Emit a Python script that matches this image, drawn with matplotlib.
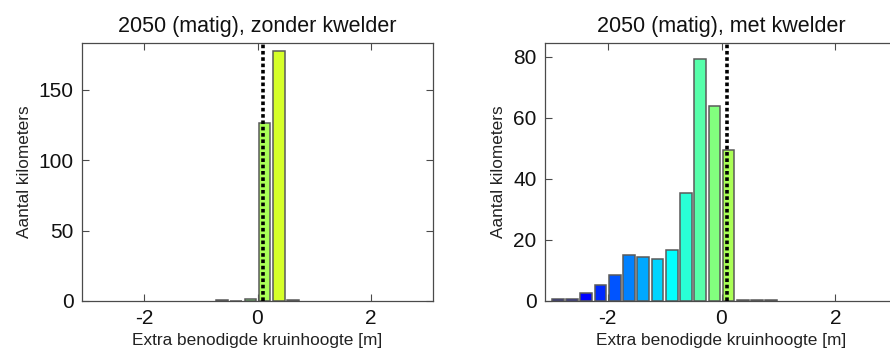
import numpy as np
import matplotlib
matplotlib.use("Agg")
import matplotlib.pyplot as plt
from matplotlib.colors import LinearSegmentedColormap, Normalize

# Bin centres of the crest-height histogram [m]
bin_centres = np.arange(-2.875, 3.0, 0.25)

# Number of kilometres per bin, without salt marsh
km_zonder = [0, 0, 0, 0, 0, 0, 0, 0, 0,
             0.4, 0.3, 1.6, 126, 177, 0.4,
             0, 0, 0, 0, 0, 0, 0, 0, 0]

# Number of kilometres per bin, with salt marsh
km_met = [0.5, 0.7, 2.7, 5.2, 8.5, 15.1, 14.3, 13.8, 16.6,
          35.3, 79.2, 63.8, 49.5, 0.3, 0.3, 0.3,
          0, 0, 0, 0, 0, 0, 0, 0]

titles = ["2050 (matig), zonder kwelder", "2050 (matig), met kwelder"]
x_label = "Extra benodigde kruinhoogte [m]"
y_label = "Aantal kilometers"
reference_height = 0.09

# Classic MATLAB-style jet colour map
jet = LinearSegmentedColormap("jet_m", {
    "red":   [(0, 0, 0), (3/8, 0, 0), (5/8, 1, 1), (7/8, 1, 1), (1, 0.5, 0.5)],
    "green": [(0, 0, 0), (1/8, 0, 0), (3/8, 1, 1), (5/8, 1, 1), (7/8, 0, 0), (1, 0, 0)],
    "blue":  [(0, 0.5, 0.5), (1/8, 1, 1), (3/8, 1, 1), (5/8, 0, 0), (1, 0, 0)],
})
norm = Normalize(-3.125, 2.875)
bar_colours = jet(norm(bin_centres))

plt.rcParams["font.family"] = ["Liberation Sans", "DejaVu Sans"]

fig = plt.figure(figsize=(8.9, 3.56), dpi=100)
W, H = 890, 356
axes_px = [(82, 43, 351, 258), (545, 43, 353, 258)]
ylims = [183, 84.5]
yticks = [[0, 50, 100, 150], [0, 20, 40, 60, 80]]
spine_col = "#4a4a4a"

for (x0, y0, w, h), counts, title, ymax, yt in zip(
        axes_px, [km_zonder, km_met], titles, ylims, yticks):
    ax = fig.add_axes([x0 / W, (H - y0 - h) / H, w / W, h / H])
    counts = np.asarray(counts, dtype=float)
    filled = counts > 0  # empty bins are not drawn
    ax.bar(bin_centres[filled], counts[filled], width=0.205,
           color=bar_colours[filled], edgecolor="#5a5a5a", linewidth=1.1,
           zorder=2)
    ax.plot([reference_height, reference_height], [0, ymax], color="black",
            linewidth=2.6, linestyle=(0, (1.0, 0.75)), zorder=3)
    ax.set_xlim(-3.1, 3.1)
    ax.set_ylim(0, ymax)
    ax.set_xticks([-2, 0, 2])
    ax.set_xticklabels(["-2", "0", "2"])
    ax.set_yticks(yt)
    ax.tick_params(direction="in", top=True, right=True, length=5,
                   width=0.8, color=spine_col, labelsize=15, pad=6,
                   labelcolor="#111111")
    for s in ax.spines.values():
        s.set_color(spine_col)
        s.set_linewidth(0.9)
    ax.set_title(title, fontsize=15.5, color="#111111", pad=8)
    ax.set_xlabel(x_label, fontsize=12.4, color="#222222", labelpad=3)
    ax.set_ylabel(y_label, fontsize=12.4, color="#222222", labelpad=5)

fig.savefig("out.png", dpi=100)
